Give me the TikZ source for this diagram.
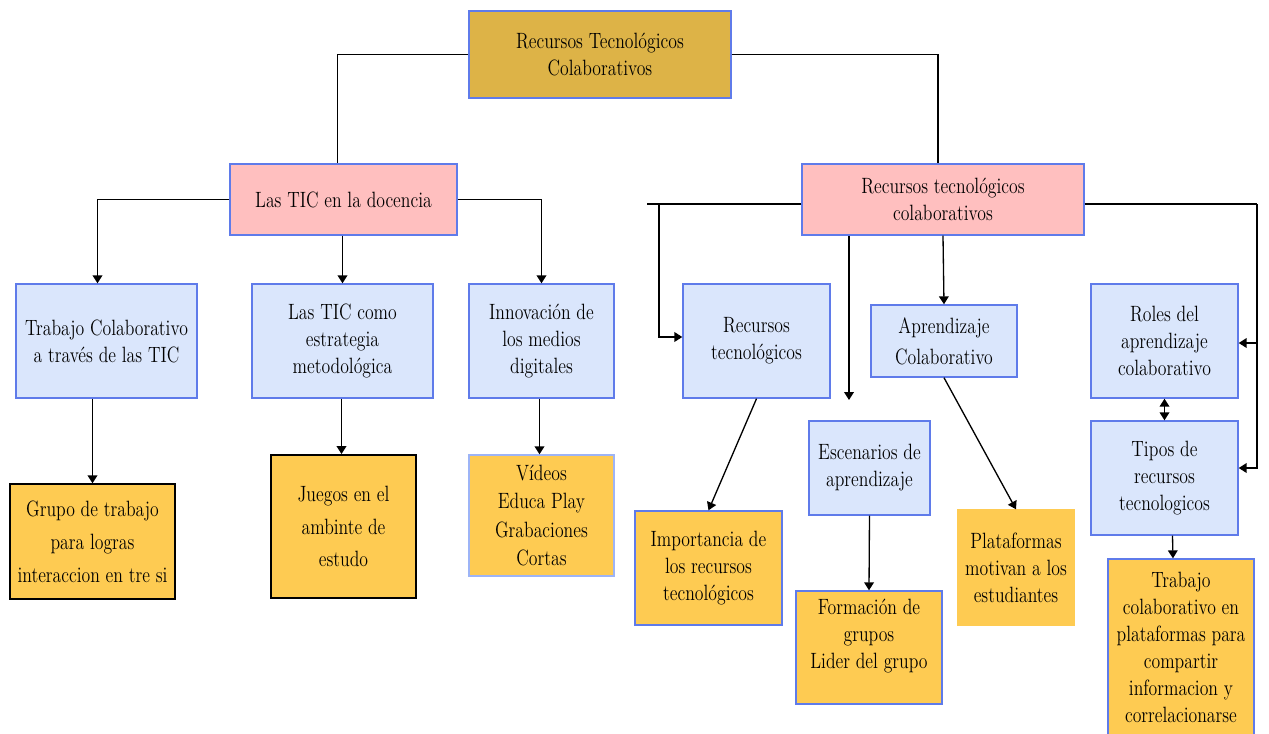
\documentclass[tikz,border=0pt]{standalone}
\usepackage{fontspec}
\setmainfont{Latin Modern Roman}[FakeStretch=0.8]
\usepackage{tikz}
\usetikzlibrary{arrows.meta,calc}

\definecolor{goldtop}{HTML}{DDB347}
\definecolor{pinkfill}{HTML}{FFBFBF}
\definecolor{bluefill}{HTML}{DAE6FC}
\definecolor{blueline}{HTML}{5F7BEA}
\definecolor{lightline}{HTML}{9DB4F6}
\definecolor{goldfill}{HTML}{FECB52}

\tikzset{
  boxsize/.style 2 args={minimum width=#1*0.02cm, minimum height=#2*0.02cm},
  box/.style={draw=blueline, line width=0.8pt, inner sep=0pt, align=center,
    font=\rmfamily\fontsize{12.6pt}{15.3pt}\selectfont},
  topbox/.style={box, fill=goldtop},
  pinkbox/.style={box, fill=pinkfill},
  bluebox/.style={box, fill=bluefill},
  goldbox/.style={box, fill=goldfill},
  wide/.style={font=\rmfamily\fontsize{12.6pt}{18.7pt}\selectfont},
  link/.style={line width=0.75pt},
  arr/.style={link, -{Triangle[length=4.5pt,width=5.5pt]}},
  twoarr/.style={link, {Triangle[length=4.5pt,width=5.5pt]}-{Triangle[length=4.5pt,width=5.5pt]}},
}

\begin{document}
\begin{tikzpicture}[x=0.02cm,y=-0.02cm]
\useasboundingbox (0,0) rectangle (1269,734);
\clip (0,0) rectangle (1269,734);

\node[topbox,boxsize={262}{87}] (top) at (600,54.5) {Recursos Tecnológicos\\Colaborativos};

\node[pinkbox,boxsize={227}{71}] (ticdoc) at (343.5,199.5) {Las TIC en la docencia};
\node[pinkbox,boxsize={282}{71}] (rtc) at (943,199.5) {Recursos tecnológicos\\colaborativos};

% left branch
\node[bluebox,boxsize={181}{114}] (trabajo) at (106.5,341) {Trabajo Colaborativo\\a través de las TIC};
\node[bluebox,boxsize={181}{114}] (ticcomo) at (342.5,341) {Las TIC como\\estrategia\\metodológica};
\node[bluebox,boxsize={145}{114}] (innov) at (541.5,341) {Innovación de\\los medios\\digitales};

\node[goldbox,wide,draw=black,boxsize={165}{115}] (grupo) at (92.5,541.5) {Grupo de trabajo\\para logras\\interaccion en tre si};
\node[goldbox,wide,draw=black,line width=1.1pt,boxsize={145}{143}] (juegos) at (343.5,526.5) {Juegos en el\\ambinte de\\estudo};
\node[goldbox,draw=lightline,font=\rmfamily\fontsize{12.6pt}{16.3pt}\selectfont,boxsize={145}{121}] (videos) at (541.5,515.5) {Vídeos\\Educa Play\\Grabaciones\\Cortas};

% right branch
\node[bluebox,boxsize={147}{114}] (rectec) at (756.5,341) {Recursos\\tecnológicos};
\node[bluebox,font=\rmfamily\fontsize{12.6pt}{17.6pt}\selectfont,boxsize={146}{72}] (aprend) at (944,341) {Aprendizaje\\Colaborativo};
\node[bluebox,boxsize={147}{114}] (roles) at (1164.5,341) {Roles del\\aprendizaje\\colaborativo};
\node[bluebox,boxsize={147}{114}] (tipos) at (1164.5,478) {Tipos de\\recursos\\tecnologicos};
\node[bluebox,boxsize={121}{94}] (escen) at (869.5,468) {Escenarios de\\aprendizaje};

\node[goldbox,boxsize={147}{114}] (import) at (708.5,568) {Importancia de\\los recursos\\tecnológicos};
\node[goldbox,boxsize={146}{113}] (forma) at (869,647.5) {Formación de\\grupos\\Lider del grupo\\\mbox{}};
\node[goldbox,draw=goldfill,boxsize={116}{115}] (plataf) at (1016,567.5) {Plataformas\\motivan a los\\estudiantes};
\node[goldbox,boxsize={146}{177}] (trabcol) at (1181,647.5) {Trabajo\\colaborativo en\\plataformas para\\compartir\\informacion y\\correlacionarse};

\coordinate (lstub) at (647,204);
\coordinate (ljoin) at (659,204);
\coordinate (rjoin) at (1257,204);
\coordinate (escarr) at (849,400);

% connectors
\draw[link] (top.west) -| ($(ticdoc.north)+(-6,0)$);
\draw[link] (top.east) -| ($(rtc.north)+(-5,0)$);

\draw[arr] (ticdoc.west) -| ($(trabajo.north)+(-9,0)$);
\draw[arr] (ticdoc.south -| ticcomo.north) -- (ticcomo.north);
\draw[arr] (ticdoc.east) -| (innov.north);

\draw[arr] (trabajo.south -| grupo.north) -- (grupo.north);
\draw[arr] ($(ticcomo.south)+(-1,0)$) -- ($(juegos.north)+(-2,0)$);
\draw[arr] ($(innov.south)+(-2,0)$) -- ($(videos.north)+(-2,0)$);

\draw[link] (rtc.west |- ljoin) -- (lstub);
\draw[arr] (ljoin) |- ($(rectec.west)+(0,-4)$);
\draw[link] (rtc.east |- rjoin) -- (rjoin);
\draw[arr] (rjoin) |- ($(roles.east)+(0,2)$);
\draw[arr] (rjoin) |- ($(tipos.east)+(0,-10)$);
\draw[arr] (rtc.south -| escarr) -- (escarr);
\draw[arr] (rtc.south) -- (aprend.north);

\draw[arr] (rectec.south) -- (import.north);
\draw[arr] (aprend.south) -- (plataf.north);
\draw[arr] (escen.south) -- (forma.north);
\draw[twoarr] (roles.south) -- (tipos.north);
\draw[arr] ($(tipos.south)+(8,0)$) -- ($(trabcol.north)+(-8,0)$);

\end{tikzpicture}
\end{document}
